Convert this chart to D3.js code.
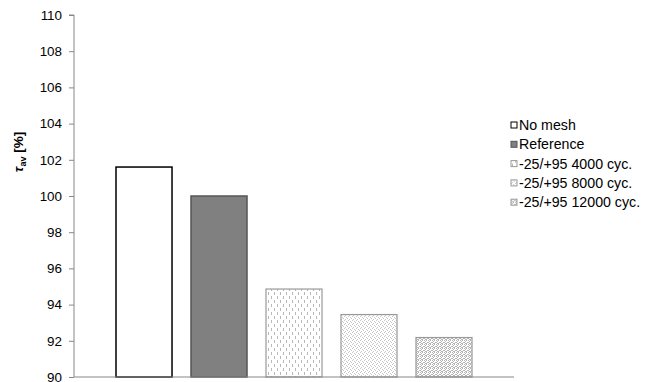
<!DOCTYPE html>
<html>
<head>
<meta charset="utf-8">
<script src="https://cdn.jsdelivr.net/npm/d3@7"></script>
<style>
  body { margin: 0; background: #fff; }
  text { font-family: Arial, "Liberation Sans", sans-serif; }
</style>
</head>
<body>
<svg id="chart" width="653" height="382"></svg>
<script>
// data
const seriesNames = ["No mesh", "Reference", "-25/+95 4000 cyc.", "-25/+95 8000 cyc.", "-25/+95 12000 cyc."];
const seriesValues = [101.6, 100.0, 94.86, 93.45, 92.18];
const yTicks = [90, 92, 94, 96, 98, 100, 102, 104, 106, 108, 110];

const svg = d3.select("#chart");
const defs = svg.append("defs");

// fill patterns, roughly like the excel ones
function dashPattern(id) {
    const p = defs.append("pattern").attr("id", id)
        .attr("patternUnits", "userSpaceOnUse").attr("width", 6).attr("height", 8);
    p.append("rect").attr("width", 6).attr("height", 8).attr("fill", "#fff");
    p.append("rect").attr("x", 1).attr("y", 0).attr("width", 1).attr("height", 3).attr("fill", "#b8b8b8");
    p.append("rect").attr("x", 4).attr("y", 4).attr("width", 1).attr("height", 3).attr("fill", "#b8b8b8");
}
function dotPattern(id, col, pts, size) {
    const p = defs.append("pattern").attr("id", id)
        .attr("patternUnits", "userSpaceOnUse").attr("width", size).attr("height", size);
    p.append("rect").attr("width", size).attr("height", size).attr("fill", "#fff");
    pts.forEach(d => p.append("rect").attr("x", d[0]).attr("y", d[1]).attr("width", 1).attr("height", 1).attr("fill", col));
}
dashPattern("pat3");
dotPattern("pat4", "#c8c8c8", [[0,0],[2,1],[1,3],[3,2]], 4);
dotPattern("pat5", "#b4b4b4", [[0,0],[2,0],[1,1],[3,2],[0,2],[2,3],[1,3]], 4);

const fills = ["#fff", "#808080", "url(#pat3)", "url(#pat4)", "url(#pat5)"];
const strokes = ["#000", "#555", "#999", "#999", "#999"];

const x0 = 74, x1 = 514;
const y = d3.scaleLinear().domain([90, 110]).range([377, 15]);

// one category, five series side by side
const x = d3.scaleBand().domain(seriesNames).range([x0, x1])
    .paddingInner(0.253).paddingOuter(0.56);

// y axis
const yAxis = d3.axisLeft(y).tickValues(yTicks).tickSize(5).tickPadding(7);
const gy = svg.append("g").attr("transform", `translate(${x0},0)`).call(yAxis);
gy.select(".domain").attr("stroke", "#888").attr("d", `M-5,${y(110)}H0V${y(90)}`);
gy.selectAll(".tick line").attr("stroke", "#888");
gy.selectAll(".tick text").attr("font-size", "13.4px").attr("fill", "#000")
    .attr("font-family", "Arial, 'Liberation Sans', sans-serif");

// bars
svg.selectAll("rect.bar").data(seriesNames).enter().append("rect")
    .attr("class", "bar")
    .attr("x", d => x(d))
    .attr("width", x.bandwidth())
    .attr("y", (d, i) => y(seriesValues[i]))
    .attr("height", (d, i) => y(90) - y(seriesValues[i]))
    .attr("fill", (d, i) => fills[i])
    .attr("stroke", (d, i) => strokes[i])
    .attr("stroke-width", (d, i) => i < 2 ? 1.5 : 1.2);

// x axis line
svg.append("line")
    .attr("x1", x0).attr("x2", x1)
    .attr("y1", y(90)).attr("y2", y(90))
    .attr("stroke", "#888").attr("stroke-width", 1.2);

// y title
const yt = svg.append("text")
    .attr("transform", `translate(23,152) rotate(-90)`)
    .attr("text-anchor", "middle")
    .attr("font-size", "13.5px").attr("font-weight", "bold");
yt.append("tspan").attr("font-style", "italic").text("τ");
yt.append("tspan").attr("font-size", "9px").attr("dy", 3).text("av");
yt.append("tspan").attr("dy", -3).text(" [%]");

// legend
const legend = svg.append("g").attr("transform", "translate(511,125)");
const item = legend.selectAll("g").data(seriesNames).enter().append("g")
    .attr("transform", (d, i) => `translate(0,${i * 19.3})`);
item.append("rect")
    .attr("x", 0).attr("y", -3).attr("width", 6).attr("height", 6)
    .attr("fill", (d, i) => fills[i])
    .attr("stroke", (d, i) => strokes[i]).attr("stroke-width", 1);
item.append("text")
    .attr("x", 8).attr("y", 0).attr("dy", "0.35em")
    .attr("font-size", "14.2px")
    .text(d => d);
</script>
</body>
</html>
